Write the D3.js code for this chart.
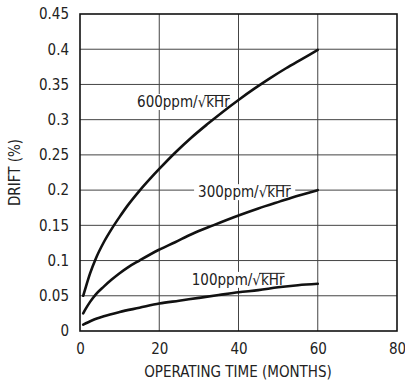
<!DOCTYPE html>
<html><head><meta charset="utf-8">
<script src="https://cdn.jsdelivr.net/npm/d3@7"></script>
<style>
html,body{margin:0;padding:0;background:#fff;}
svg text{font-family:"DejaVu Sans Condensed","Liberation Sans Narrow",sans-serif;fill:#222;}
</style></head><body>
<svg id="c" width="405" height="384"></svg>
<script>
const xTicks = [0, 20, 40, 60, 80];
const yTicks = [0, 0.05, 0.1, 0.15, 0.2, 0.25, 0.3, 0.35, 0.4, 0.45];
const yTickLabels = ["0", "0.05", "0.1", "0.15", "0.2", "0.25", "0.3", "0.35", "0.4", "0.45"];

const months600 = [0.8, 1.5, 2.5, 4, 6, 8, 10, 12, 15, 18, 20, 24, 28, 32, 36, 40, 44, 48, 52, 56, 60];
const drift600  = [0.050, 0.063, 0.081, 0.103, 0.126, 0.145, 0.162, 0.178, 0.199, 0.218, 0.230, 0.253, 0.274, 0.293, 0.311, 0.328, 0.344, 0.359, 0.373, 0.386, 0.399];

const months300 = [0.8, 1.5, 2.5, 4, 6, 8, 10, 12, 15, 19.8, 24, 28, 33.6, 40, 45, 50.5, 55, 60];
const drift300  = [0.025, 0.032, 0.041, 0.052, 0.063, 0.073, 0.082, 0.090, 0.100, 0.115, 0.126, 0.137, 0.150, 0.164, 0.174, 0.184, 0.192, 0.200];

const months100 = [0.8, 3, 6, 10, 15, 20, 25, 30, 35, 40, 45, 50, 55, 60];
const drift100  = [0.009, 0.015, 0.021, 0.027, 0.033, 0.039, 0.043, 0.047, 0.051, 0.055, 0.058, 0.062, 0.065, 0.067];

const seriesNames = ["600ppm/√", "300ppm/√", "100ppm/√"];
const seriesSuffix = "kHr";
// label anchor positions in data units (month, drift)
const labelAt = [[14.4, 0.318], [29.8, 0.190], [28.2, 0.0655]];

const xTitle = "OPERATING TIME (MONTHS)";
const yTitle = "DRIFT (%)";

const svg = d3.select("#c");
const L = 80, T = 14, W = 317, H = 317;
const x = d3.scaleLinear().domain([0, 80]).range([L, L + W]);
const y = d3.scaleLinear().domain([0, 0.45]).range([T + H, T]);

// grid
const gridG = svg.append("g");
gridG.selectAll("line.v").data(xTicks.slice(1, -1)).join("line")
  .attr("x1", d => x(d)).attr("x2", d => x(d)).attr("y1", T).attr("y2", T + H)
  .attr("stroke", "#444").attr("stroke-width", 1);
gridG.selectAll("line.h").data(yTicks.slice(1, -1)).join("line")
  .attr("x1", L).attr("x2", L + W).attr("y1", d => y(d)).attr("y2", d => y(d))
  .attr("stroke", "#444").attr("stroke-width", 1);

// axes (labels only)
const xAxis = d3.axisBottom(x).tickValues(xTicks).tickSize(0).tickPadding(0);
const gx = svg.append("g").attr("transform", `translate(0,${T + H + 12})`).call(xAxis);
gx.select(".domain").remove();
gx.selectAll("text").attr("font-size", 15).attr("fill", "#222").attr("font-family", null);

const yAxis = d3.axisLeft(y).tickValues(yTicks).tickFormat((d, i) => yTickLabels[i]).tickSize(0).tickPadding(0);
const gy = svg.append("g").attr("transform", `translate(${L - 11},0)`).call(yAxis);
gy.select(".domain").remove();
gy.selectAll("text").attr("font-size", 15).attr("fill", "#222").attr("font-family", null);

// titles
svg.append("text").attr("x", 238).attr("y", 377).attr("text-anchor", "middle")
  .attr("font-size", 15).text(xTitle);
svg.append("text").attr("transform", `translate(20,${T + H / 2}) rotate(-90)`)
  .attr("text-anchor", "middle").attr("font-size", 15).text(yTitle);

// label background boxes
const boxG = svg.append("g");
const curveG = svg.append("g");
const labelG = svg.append("g");

seriesNames.forEach((nm, i) => {
  const t = labelG.append("text").attr("x", x(labelAt[i][0])).attr("y", y(labelAt[i][1]))
    .attr("font-size", 15).attr("text-anchor", "start");
  t.append("tspan").text(nm);
  t.append("tspan").text(seriesSuffix);
  const n = t.node();
  const b = n.getBBox();
  boxG.append("rect").attr("x", b.x - 4).attr("y", b.y + 1).attr("width", b.width + 8).attr("height", b.height - 2)
    .attr("fill", "#fff");
  const full = n.getNumberOfChars();
  const k = nm.length;
  const sx = n.getStartPositionOfChar(k - 1).x + n.getSubStringLength(k - 1, 1) * 0.8;
  const ex = n.getStartPositionOfChar(full - 1).x + n.getSubStringLength(full - 1, 1);
  labelG.append("line").attr("x1", sx).attr("x2", ex).attr("y1", b.y + 2.5).attr("y2", b.y + 2.5)
    .attr("stroke", "#222").attr("stroke-width", 1);
});

// frame
svg.append("rect").attr("x", L).attr("y", T).attr("width", W).attr("height", H)
  .attr("fill", "none").attr("stroke", "#111").attr("stroke-width", 1.6);

// curves
const line = d3.line().x(d => x(d[0])).y(d => y(d[1])).curve(d3.curveMonotoneX);
const series = [[months600, drift600], [months300, drift300], [months100, drift100]];
series.forEach(([m, v]) => {
  curveG.append("path").datum(m.map((mm, j) => [mm, v[j]])).attr("d", line)
    .attr("fill", "none").attr("stroke", "#111").attr("stroke-width", 2.6).attr("stroke-linecap", "round");
});
</script>
</body></html>
